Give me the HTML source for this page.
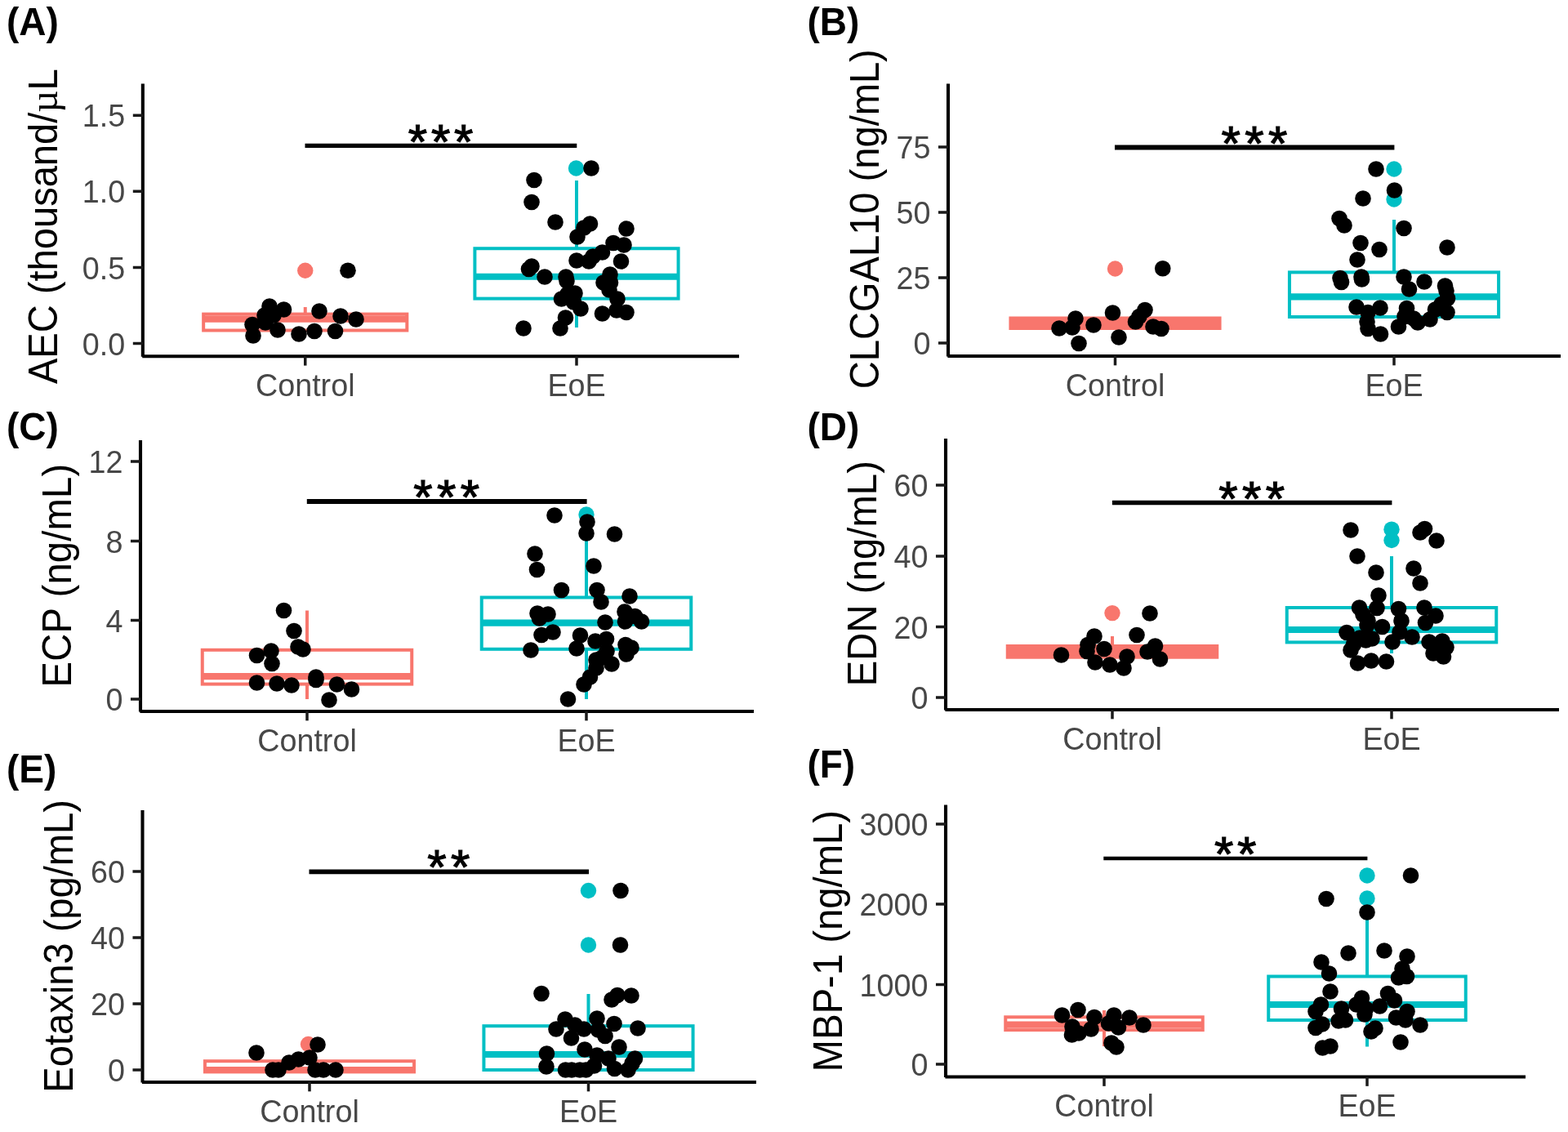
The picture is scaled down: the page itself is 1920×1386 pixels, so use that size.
<!DOCTYPE html>
<html lang="en">
<head>
<meta charset="utf-8">
<title>Figure</title>
<style>
html,body{margin:0;padding:0;background:#fff;}
body{width:1920px;height:1386px;overflow:hidden;}
svg{display:block;}
text{font-family:"Liberation Sans",Arial,Helvetica,sans-serif;}
.tl{font-size:37.7px;fill:#474747;}
.yt{font-size:47.1px;fill:#000;}
.mu{font-family:"Liberation Serif","DejaVu Serif",serif;}
.pl{font-size:46px;font-weight:bold;fill:#000;}
.st{font-size:60px;fill:#000;stroke:#000;stroke-width:1.2px;stroke-linejoin:miter;}
.ax{stroke:#000;stroke-width:4.1;fill:none;stroke-linecap:butt;}
.tk{stroke:#1a1a1a;stroke-width:3.5;fill:none;}
.sg{stroke:#000;fill:none;}
.p{fill:#000;}
</style>
</head>
<body>
<svg width="1920" height="1386" viewBox="0 0 1920 1386">
<rect x="0" y="0" width="1920" height="1386" fill="#ffffff"/>

<g id="panel-A">
<g stroke="#F8766D" fill="none" stroke-width="4"><line x1="373.75" y1="384.6" x2="373.75" y2="376"/><rect x="249.16" y="384.6" width="249.18" height="19.9" fill="#fff" stroke-linejoin="miter"/><line x1="249.16" y1="390.6" x2="498.34" y2="390.6" stroke-width="8.2"/></g>
<g stroke="#00BFC4" fill="none" stroke-width="4"><line x1="706" y1="304.25" x2="706" y2="221"/><line x1="706" y1="365.6" x2="706" y2="401"/><rect x="581.41" y="304.25" width="249.18" height="61.35" fill="#fff" stroke-linejoin="miter"/><line x1="581.41" y1="338.75" x2="830.59" y2="338.75" stroke-width="8.2"/></g>
<circle cx="373.75" cy="331.25" r="9.7" fill="#F8766D"/>
<circle cx="705.5" cy="206" r="9.7" fill="#00BFC4"/>
<g class="p"><circle cx="426" cy="331.25" r="9.8"/><circle cx="330" cy="375" r="9.8"/><circle cx="347.5" cy="379" r="9.8"/><circle cx="391" cy="381" r="9.8"/><circle cx="324" cy="386" r="9.8"/><circle cx="335" cy="386" r="9.8"/><circle cx="417" cy="387" r="9.8"/><circle cx="436" cy="391" r="9.8"/><circle cx="309" cy="397.5" r="9.8"/><circle cx="325" cy="395" r="9.8"/><circle cx="340" cy="404" r="9.8"/><circle cx="310" cy="411" r="9.8"/><circle cx="366" cy="409" r="9.8"/><circle cx="385" cy="405.5" r="9.8"/><circle cx="410.5" cy="405.5" r="9.8"/><circle cx="724" cy="206" r="9.8"/><circle cx="654" cy="220.5" r="9.8"/><circle cx="651" cy="247.5" r="9.8"/><circle cx="680" cy="272" r="9.8"/><circle cx="722.5" cy="274" r="9.8"/><circle cx="715" cy="279" r="9.8"/><circle cx="767" cy="280" r="9.8"/><circle cx="707" cy="290" r="9.8"/><circle cx="751" cy="297.5" r="9.8"/><circle cx="764" cy="300" r="9.8"/><circle cx="737.5" cy="309" r="9.8"/><circle cx="726" cy="314" r="9.8"/><circle cx="721" cy="320" r="9.8"/><circle cx="706" cy="319" r="9.8"/><circle cx="760.5" cy="320" r="9.8"/><circle cx="651" cy="326" r="9.8"/><circle cx="647.5" cy="329.5" r="9.8"/><circle cx="667" cy="339" r="9.8"/><circle cx="693" cy="339" r="9.8"/><circle cx="747" cy="336" r="9.8"/><circle cx="694" cy="344" r="9.8"/><circle cx="739" cy="346" r="9.8"/><circle cx="747.5" cy="346" r="9.8"/><circle cx="746" cy="355" r="9.8"/><circle cx="704" cy="359" r="9.8"/><circle cx="695" cy="360" r="9.8"/><circle cx="687.5" cy="366" r="9.8"/><circle cx="756" cy="366" r="9.8"/><circle cx="702.5" cy="370" r="9.8"/><circle cx="711" cy="378" r="9.8"/><circle cx="755" cy="380" r="9.8"/><circle cx="737.5" cy="384" r="9.8"/><circle cx="767" cy="382.5" r="9.8"/><circle cx="692.5" cy="389" r="9.8"/><circle cx="641" cy="402" r="9.8"/><circle cx="686" cy="402" r="9.8"/></g>
<line class="sg" stroke-width="5.2" x1="373.5" y1="178.4" x2="706.3" y2="178.4"/>
<text class="st" text-anchor="middle" letter-spacing="4.76" x="541.98" y="194.4">***</text>
<line class="ax" x1="174.85" y1="102.5" x2="174.85" y2="436.85"/><line class="ax" x1="174.25" y1="436.25" x2="905" y2="436.25"/>
<line class="tk" x1="162.8" y1="141.25" x2="174.85" y2="141.25"/>
<text class="tl" text-anchor="end" transform="translate(153.25 155.45) scale(1 1.045)">1.5</text>
<line class="tk" x1="162.8" y1="234.25" x2="174.85" y2="234.25"/>
<text class="tl" text-anchor="end" transform="translate(153.25 248.45) scale(1 1.045)">1.0</text>
<line class="tk" x1="162.8" y1="327.5" x2="174.85" y2="327.5"/>
<text class="tl" text-anchor="end" transform="translate(153.25 341.7) scale(1 1.045)">0.5</text>
<line class="tk" x1="162.8" y1="420.5" x2="174.85" y2="420.5"/>
<text class="tl" text-anchor="end" transform="translate(153.25 434.7) scale(1 1.045)">0.0</text>
<line class="tk" x1="373.75" y1="436.25" x2="373.75" y2="447.6"/>
<text class="tl" text-anchor="middle" transform="translate(373.75 484.75) scale(1 1.045)">Control</text>
<line class="tk" x1="706" y1="436.25" x2="706" y2="447.6"/>
<text class="tl" text-anchor="middle" transform="translate(706 484.75) scale(1 1.045)">EoE</text>
<text class="yt" transform="translate(69.8 470) rotate(-90) scale(1 1.045)" x="-0.09">AEC (thousand/<tspan class="mu">µ</tspan>L</text>
<text class="pl" transform="translate(7.9 43.4) scale(1 1.045)">(A)</text>
</g>
<g id="panel-B">
<g stroke="#F8766D" fill="none" stroke-width="4"><rect x="1237.44" y="389.5" width="256.12" height="12.5" fill="#F8766D" stroke-linejoin="miter"/><line x1="1237.44" y1="395" x2="1493.56" y2="395" stroke-width="8.2"/></g>
<g stroke="#00BFC4" fill="none" stroke-width="4"><line x1="1707" y1="333.4" x2="1707" y2="269"/><rect x="1578.94" y="333.4" width="256.12" height="54.6" fill="#fff" stroke-linejoin="miter"/><line x1="1578.94" y1="363.3" x2="1835.06" y2="363.3" stroke-width="8.2"/></g>
<circle cx="1365.5" cy="329" r="9.7" fill="#F8766D"/>
<circle cx="1707" cy="207" r="9.7" fill="#00BFC4"/>
<circle cx="1707" cy="244" r="9.7" fill="#00BFC4"/>
<g class="p"><circle cx="1423.75" cy="328.75" r="9.8"/><circle cx="1362.5" cy="383" r="9.8"/><circle cx="1402" cy="379.5" r="9.8"/><circle cx="1317" cy="390" r="9.8"/><circle cx="1395" cy="387.5" r="9.8"/><circle cx="1390.5" cy="394" r="9.8"/><circle cx="1339" cy="398" r="9.8"/><circle cx="1297" cy="402" r="9.8"/><circle cx="1313" cy="401" r="9.8"/><circle cx="1412" cy="400" r="9.8"/><circle cx="1422" cy="402.5" r="9.8"/><circle cx="1370" cy="413" r="9.8"/><circle cx="1321" cy="420.5" r="9.8"/><circle cx="1685" cy="207" r="9.8"/><circle cx="1707.5" cy="233" r="9.8"/><circle cx="1669" cy="243" r="9.8"/><circle cx="1640" cy="267.5" r="9.8"/><circle cx="1646" cy="276" r="9.8"/><circle cx="1719" cy="279.5" r="9.8"/><circle cx="1666" cy="297.5" r="9.8"/><circle cx="1689" cy="305.5" r="9.8"/><circle cx="1772" cy="303" r="9.8"/><circle cx="1662" cy="318" r="9.8"/><circle cx="1641" cy="340.5" r="9.8"/><circle cx="1642.5" cy="345.5" r="9.8"/><circle cx="1667" cy="339" r="9.8"/><circle cx="1667.5" cy="342" r="9.8"/><circle cx="1719" cy="339" r="9.8"/><circle cx="1744" cy="345" r="9.8"/><circle cx="1725.5" cy="354" r="9.8"/><circle cx="1769.5" cy="350" r="9.8"/><circle cx="1771" cy="356" r="9.8"/><circle cx="1772.5" cy="365.5" r="9.8"/><circle cx="1765" cy="372.5" r="9.8"/><circle cx="1757.5" cy="379" r="9.8"/><circle cx="1772" cy="382.5" r="9.8"/><circle cx="1661" cy="376" r="9.8"/><circle cx="1690" cy="377" r="9.8"/><circle cx="1675" cy="382.5" r="9.8"/><circle cx="1722.5" cy="377.5" r="9.8"/><circle cx="1720" cy="387.5" r="9.8"/><circle cx="1731" cy="390" r="9.8"/><circle cx="1751" cy="391" r="9.8"/><circle cx="1736" cy="395" r="9.8"/><circle cx="1674" cy="394" r="9.8"/><circle cx="1712.5" cy="400" r="9.8"/><circle cx="1675" cy="402.5" r="9.8"/><circle cx="1690.5" cy="409" r="9.8"/></g>
<line class="sg" stroke-width="6" x1="1365" y1="180.5" x2="1707.4" y2="180.5"/>
<text class="st" text-anchor="middle" letter-spacing="5.4" x="1538.7" y="195.5">***</text>
<line class="ax" x1="1161" y1="102.5" x2="1161" y2="436.6"/><line class="ax" x1="1160.4" y1="436" x2="1911" y2="436"/>
<line class="tk" x1="1148.95" y1="180" x2="1161" y2="180"/>
<text class="tl" text-anchor="end" transform="translate(1139.4 194.2) scale(1 1.045)">75</text>
<line class="tk" x1="1148.95" y1="260" x2="1161" y2="260"/>
<text class="tl" text-anchor="end" transform="translate(1139.4 274.2) scale(1 1.045)">50</text>
<line class="tk" x1="1148.95" y1="340" x2="1161" y2="340"/>
<text class="tl" text-anchor="end" transform="translate(1139.4 354.2) scale(1 1.045)">25</text>
<line class="tk" x1="1148.95" y1="420" x2="1161" y2="420"/>
<text class="tl" text-anchor="end" transform="translate(1139.4 434.2) scale(1 1.045)">0</text>
<line class="tk" x1="1365.5" y1="436" x2="1365.5" y2="447.35"/>
<text class="tl" text-anchor="middle" transform="translate(1365.5 484.5) scale(1 1.045)">Control</text>
<line class="tk" x1="1707" y1="436" x2="1707" y2="447.35"/>
<text class="tl" text-anchor="middle" transform="translate(1707 484.5) scale(1 1.045)">EoE</text>
<text class="yt" transform="translate(1076 473.9) rotate(-90) scale(1 1.045)" x="-2.39">CLCGAL10 (ng/mL)</text>
<text class="pl" transform="translate(988.4 43.4) scale(1 1.045)">(B)</text>
</g>
<g id="panel-C">
<g stroke="#F8766D" fill="none" stroke-width="4"><line x1="376" y1="795.8" x2="376" y2="747.5"/><line x1="376" y1="837.6" x2="376" y2="856"/><rect x="247.75" y="795.8" width="256.5" height="41.8" fill="#fff" stroke-linejoin="miter"/><line x1="247.75" y1="828.2" x2="504.25" y2="828.2" stroke-width="8.2"/></g>
<g stroke="#00BFC4" fill="none" stroke-width="4"><line x1="718" y1="731.5" x2="718" y2="630"/><line x1="718" y1="794.8" x2="718" y2="856"/><rect x="589.75" y="731.5" width="256.5" height="63.3" fill="#fff" stroke-linejoin="miter"/><line x1="589.75" y1="762.6" x2="846.25" y2="762.6" stroke-width="8.2"/></g>
<circle cx="718" cy="630" r="9.7" fill="#00BFC4"/>
<g class="p"><circle cx="347.5" cy="747.5" r="9.8"/><circle cx="360" cy="772.5" r="9.8"/><circle cx="365" cy="792" r="9.8"/><circle cx="371" cy="795" r="9.8"/><circle cx="332" cy="797" r="9.8"/><circle cx="314.5" cy="802.5" r="9.8"/><circle cx="333" cy="812.5" r="9.8"/><circle cx="387" cy="829" r="9.8"/><circle cx="387" cy="832.5" r="9.8"/><circle cx="314.5" cy="836" r="9.8"/><circle cx="339" cy="837" r="9.8"/><circle cx="357" cy="839" r="9.8"/><circle cx="412.5" cy="838" r="9.8"/><circle cx="430.5" cy="844" r="9.8"/><circle cx="403" cy="857" r="9.8"/><circle cx="679" cy="631" r="9.8"/><circle cx="719" cy="639" r="9.8"/><circle cx="718" cy="653" r="9.8"/><circle cx="752.5" cy="654" r="9.8"/><circle cx="655" cy="678" r="9.8"/><circle cx="657.5" cy="697.5" r="9.8"/><circle cx="727" cy="693" r="9.8"/><circle cx="687.5" cy="722.5" r="9.8"/><circle cx="731" cy="722.5" r="9.8"/><circle cx="771" cy="730" r="9.8"/><circle cx="736" cy="737" r="9.8"/><circle cx="658" cy="751" r="9.8"/><circle cx="671" cy="752" r="9.8"/><circle cx="660.5" cy="757" r="9.8"/><circle cx="765" cy="749" r="9.8"/><circle cx="777.5" cy="754.5" r="9.8"/><circle cx="785.5" cy="761" r="9.8"/><circle cx="765.5" cy="761" r="9.8"/><circle cx="741" cy="762" r="9.8"/><circle cx="677" cy="774" r="9.8"/><circle cx="663" cy="777.5" r="9.8"/><circle cx="710.5" cy="778" r="9.8"/><circle cx="742.5" cy="782.5" r="9.8"/><circle cx="729" cy="785" r="9.8"/><circle cx="766" cy="789.5" r="9.8"/><circle cx="773" cy="793" r="9.8"/><circle cx="706" cy="794" r="9.8"/><circle cx="650" cy="796" r="9.8"/><circle cx="743" cy="797.5" r="9.8"/><circle cx="767" cy="801" r="9.8"/><circle cx="737.5" cy="805" r="9.8"/><circle cx="730" cy="808" r="9.8"/><circle cx="749" cy="813" r="9.8"/><circle cx="730" cy="818" r="9.8"/><circle cx="722.5" cy="829" r="9.8"/><circle cx="715" cy="838" r="9.8"/><circle cx="695.5" cy="856" r="9.8"/></g>
<line class="sg" stroke-width="6.2" x1="375.8" y1="614" x2="718.6" y2="614"/>
<text class="st" text-anchor="middle" letter-spacing="5.4" x="549.4" y="629.2">***</text>
<line class="ax" x1="172" y1="539" x2="172" y2="871.6"/><line class="ax" x1="171.4" y1="871" x2="923" y2="871"/>
<line class="tk" x1="159.95" y1="565" x2="172" y2="565"/>
<text class="tl" text-anchor="end" transform="translate(150.4 579.2) scale(1 1.045)">12</text>
<line class="tk" x1="159.95" y1="662.5" x2="172" y2="662.5"/>
<text class="tl" text-anchor="end" transform="translate(150.4 676.7) scale(1 1.045)">8</text>
<line class="tk" x1="159.95" y1="759.5" x2="172" y2="759.5"/>
<text class="tl" text-anchor="end" transform="translate(150.4 773.7) scale(1 1.045)">4</text>
<line class="tk" x1="159.95" y1="856" x2="172" y2="856"/>
<text class="tl" text-anchor="end" transform="translate(150.4 870.2) scale(1 1.045)">0</text>
<line class="tk" x1="376" y1="871" x2="376" y2="882.35"/>
<text class="tl" text-anchor="middle" transform="translate(376 919.5) scale(1 1.045)">Control</text>
<line class="tk" x1="718" y1="871" x2="718" y2="882.35"/>
<text class="tl" text-anchor="middle" transform="translate(718 919.5) scale(1 1.045)">EoE</text>
<text class="yt" letter-spacing="0.23" transform="translate(86.6 837.6) rotate(-90) scale(1 1.045)" x="-3.86">ECP (ng/mL)</text>
<text class="pl" transform="translate(7.9 539.1) scale(1 1.045)">(C)</text>
</g>
<g id="panel-D">
<g stroke="#F8766D" fill="none" stroke-width="4"><line x1="1362" y1="791" x2="1362" y2="779"/><rect x="1233.75" y="791" width="256.5" height="13.7" fill="#F8766D" stroke-linejoin="miter"/><line x1="1233.75" y1="798" x2="1490.25" y2="798" stroke-width="8.2"/></g>
<g stroke="#00BFC4" fill="none" stroke-width="4"><line x1="1704" y1="744" x2="1704" y2="681"/><line x1="1704" y1="786.4" x2="1704" y2="800"/><rect x="1575.75" y="744" width="256.5" height="42.4" fill="#fff" stroke-linejoin="miter"/><line x1="1575.75" y1="771" x2="1832.25" y2="771" stroke-width="8.2"/></g>
<circle cx="1362" cy="750.6" r="9.7" fill="#F8766D"/>
<circle cx="1704" cy="648.2" r="9.7" fill="#00BFC4"/>
<circle cx="1704" cy="661.5" r="9.7" fill="#00BFC4"/>
<g class="p"><circle cx="1408" cy="751" r="9.8"/><circle cx="1340" cy="779" r="9.8"/><circle cx="1392" cy="777.5" r="9.8"/><circle cx="1332" cy="789.5" r="9.8"/><circle cx="1414.5" cy="791" r="9.8"/><circle cx="1352" cy="794.5" r="9.8"/><circle cx="1331" cy="797.5" r="9.8"/><circle cx="1405" cy="798" r="9.8"/><circle cx="1299.5" cy="802" r="9.8"/><circle cx="1380" cy="804" r="9.8"/><circle cx="1420.5" cy="807" r="9.8"/><circle cx="1341" cy="811" r="9.8"/><circle cx="1359" cy="814" r="9.8"/><circle cx="1376" cy="818" r="9.8"/><circle cx="1654" cy="649" r="9.8"/><circle cx="1744.5" cy="647.5" r="9.8"/><circle cx="1739" cy="652" r="9.8"/><circle cx="1759" cy="662" r="9.8"/><circle cx="1662" cy="681" r="9.8"/><circle cx="1731" cy="696" r="9.8"/><circle cx="1685" cy="701" r="9.8"/><circle cx="1739" cy="714" r="9.8"/><circle cx="1688" cy="729" r="9.8"/><circle cx="1664.5" cy="744" r="9.8"/><circle cx="1686" cy="744.5" r="9.8"/><circle cx="1712.5" cy="745.5" r="9.8"/><circle cx="1744" cy="744" r="9.8"/><circle cx="1669" cy="752.5" r="9.8"/><circle cx="1758" cy="754" r="9.8"/><circle cx="1675" cy="760" r="9.8"/><circle cx="1716" cy="760" r="9.8"/><circle cx="1745.5" cy="762.5" r="9.8"/><circle cx="1692.5" cy="767.5" r="9.8"/><circle cx="1674" cy="765.5" r="9.8"/><circle cx="1649" cy="774.5" r="9.8"/><circle cx="1714" cy="774" r="9.8"/><circle cx="1729" cy="780" r="9.8"/><circle cx="1665" cy="781" r="9.8"/><circle cx="1680" cy="782" r="9.8"/><circle cx="1672.5" cy="784" r="9.8"/><circle cx="1705" cy="786" r="9.8"/><circle cx="1750" cy="786" r="9.8"/><circle cx="1766" cy="785" r="9.8"/><circle cx="1657.5" cy="789" r="9.8"/><circle cx="1771" cy="792.5" r="9.8"/><circle cx="1762.5" cy="794" r="9.8"/><circle cx="1654" cy="796" r="9.8"/><circle cx="1755" cy="800" r="9.8"/><circle cx="1767.5" cy="804" r="9.8"/><circle cx="1679" cy="809" r="9.8"/><circle cx="1697.5" cy="810" r="9.8"/><circle cx="1662.5" cy="812" r="9.8"/></g>
<line class="sg" stroke-width="5.6" x1="1361.9" y1="615.5" x2="1704.4" y2="615.5"/>
<text class="st" text-anchor="middle" letter-spacing="5.4" x="1535.4" y="630.7">***</text>
<line class="ax" x1="1158" y1="537" x2="1158" y2="869.6"/><line class="ax" x1="1157.4" y1="869" x2="1909" y2="869"/>
<line class="tk" x1="1145.95" y1="594" x2="1158" y2="594"/>
<text class="tl" text-anchor="end" transform="translate(1136.4 608.2) scale(1 1.045)">60</text>
<line class="tk" x1="1145.95" y1="681" x2="1158" y2="681"/>
<text class="tl" text-anchor="end" transform="translate(1136.4 695.2) scale(1 1.045)">40</text>
<line class="tk" x1="1145.95" y1="767.5" x2="1158" y2="767.5"/>
<text class="tl" text-anchor="end" transform="translate(1136.4 781.7) scale(1 1.045)">20</text>
<line class="tk" x1="1145.95" y1="854" x2="1158" y2="854"/>
<text class="tl" text-anchor="end" transform="translate(1136.4 868.2) scale(1 1.045)">0</text>
<line class="tk" x1="1362" y1="869" x2="1362" y2="880.35"/>
<text class="tl" text-anchor="middle" transform="translate(1362 917.5) scale(1 1.045)">Control</text>
<line class="tk" x1="1704" y1="869" x2="1704" y2="880.35"/>
<text class="tl" text-anchor="middle" transform="translate(1704 917.5) scale(1 1.045)">EoE</text>
<text class="yt" letter-spacing="0.14" transform="translate(1072.7 836.4) rotate(-90) scale(1 1.045)" x="-3.86">EDN (ng/mL)</text>
<text class="pl" transform="translate(988.4 539.1) scale(1 1.045)">(D)</text>
</g>
<g id="panel-E">
<g stroke="#F8766D" fill="none" stroke-width="4"><rect x="250.94" y="1299.2" width="256.12" height="13.2" fill="#fff" stroke-linejoin="miter"/><line x1="250.94" y1="1310" x2="507.06" y2="1310" stroke-width="8.2"/></g>
<g stroke="#00BFC4" fill="none" stroke-width="4"><line x1="720.5" y1="1256.2" x2="720.5" y2="1217"/><rect x="592.44" y="1256.2" width="256.12" height="53.8" fill="#fff" stroke-linejoin="miter"/><line x1="592.44" y1="1291" x2="848.56" y2="1291" stroke-width="8.2"/></g>
<circle cx="377.5" cy="1278.5" r="9.7" fill="#F8766D"/>
<circle cx="720.5" cy="1090.5" r="9.7" fill="#00BFC4"/>
<circle cx="720.5" cy="1157" r="9.7" fill="#00BFC4"/>
<g class="p"><circle cx="389" cy="1279" r="9.8"/><circle cx="314" cy="1289" r="9.8"/><circle cx="379" cy="1295" r="9.8"/><circle cx="365.5" cy="1297" r="9.8"/><circle cx="354" cy="1301" r="9.8"/><circle cx="334" cy="1310" r="9.8"/><circle cx="341" cy="1310" r="9.8"/><circle cx="386" cy="1310" r="9.8"/><circle cx="396" cy="1310" r="9.8"/><circle cx="411" cy="1310" r="9.8"/><circle cx="760" cy="1090.5" r="9.8"/><circle cx="759.5" cy="1157" r="9.8"/><circle cx="663" cy="1216.5" r="9.8"/><circle cx="756" cy="1218.5" r="9.8"/><circle cx="773" cy="1219" r="9.8"/><circle cx="749" cy="1224" r="9.8"/><circle cx="692" cy="1248" r="9.8"/><circle cx="731" cy="1247" r="9.8"/><circle cx="752" cy="1253.5" r="9.8"/><circle cx="704" cy="1255" r="9.8"/><circle cx="681" cy="1260" r="9.8"/><circle cx="715" cy="1260" r="9.8"/><circle cx="781" cy="1259" r="9.8"/><circle cx="732.5" cy="1261" r="9.8"/><circle cx="741" cy="1268.5" r="9.8"/><circle cx="699.5" cy="1271" r="9.8"/><circle cx="758" cy="1282" r="9.8"/><circle cx="716" cy="1285" r="9.8"/><circle cx="669.5" cy="1290" r="9.8"/><circle cx="731" cy="1292" r="9.8"/><circle cx="745" cy="1296" r="9.8"/><circle cx="777.5" cy="1296" r="9.8"/><circle cx="774" cy="1302" r="9.8"/><circle cx="669" cy="1306" r="9.8"/><circle cx="727.5" cy="1305" r="9.8"/><circle cx="752.5" cy="1308.5" r="9.8"/><circle cx="769" cy="1310" r="9.8"/><circle cx="692.5" cy="1310" r="9.8"/><circle cx="700" cy="1310" r="9.8"/><circle cx="710" cy="1310" r="9.8"/><circle cx="717.5" cy="1310" r="9.8"/></g>
<line class="sg" stroke-width="5.8" x1="378.5" y1="1067.3" x2="721" y2="1067.3"/>
<text class="st" text-anchor="middle" letter-spacing="5.4" x="551.95" y="1082.1">**</text>
<line class="ax" x1="174.5" y1="992" x2="174.5" y2="1325.6"/><line class="ax" x1="173.9" y1="1325" x2="926" y2="1325"/>
<line class="tk" x1="162.45" y1="1067" x2="174.5" y2="1067"/>
<text class="tl" text-anchor="end" transform="translate(152.9 1081.2) scale(1 1.045)">60</text>
<line class="tk" x1="162.45" y1="1148" x2="174.5" y2="1148"/>
<text class="tl" text-anchor="end" transform="translate(152.9 1162.2) scale(1 1.045)">40</text>
<line class="tk" x1="162.45" y1="1229" x2="174.5" y2="1229"/>
<text class="tl" text-anchor="end" transform="translate(152.9 1243.2) scale(1 1.045)">20</text>
<line class="tk" x1="162.45" y1="1310" x2="174.5" y2="1310"/>
<text class="tl" text-anchor="end" transform="translate(152.9 1324.2) scale(1 1.045)">0</text>
<line class="tk" x1="379" y1="1325" x2="379" y2="1336.35"/>
<text class="tl" text-anchor="middle" transform="translate(379 1373.5) scale(1 1.045)">Control</text>
<line class="tk" x1="720.5" y1="1325" x2="720.5" y2="1336.35"/>
<text class="tl" text-anchor="middle" transform="translate(720.5 1373.5) scale(1 1.045)">EoE</text>
<text class="yt" transform="translate(89.4 1333.8) rotate(-90) scale(1 1.045)" x="-3.86">Eotaxin3 (pg/mL)</text>
<text class="pl" transform="translate(7.9 957.6) scale(1 1.045)">(E)</text>
</g>
<g id="panel-F">
<g stroke="#F8766D" fill="none" stroke-width="4"><line x1="1352" y1="1245.3" x2="1352" y2="1237"/><line x1="1352" y1="1261.1" x2="1352" y2="1281"/><rect x="1231.25" y="1245.3" width="241.5" height="15.8" fill="#fff" stroke-linejoin="miter"/><line x1="1231.25" y1="1254.7" x2="1472.75" y2="1254.7" stroke-width="8.2"/></g>
<g stroke="#00BFC4" fill="none" stroke-width="4"><line x1="1674" y1="1195.5" x2="1674" y2="1117.5"/><line x1="1674" y1="1249" x2="1674" y2="1281.5"/><rect x="1553.25" y="1195.5" width="241.5" height="53.5" fill="#fff" stroke-linejoin="miter"/><line x1="1553.25" y1="1230" x2="1794.75" y2="1230" stroke-width="8.2"/></g>
<circle cx="1674" cy="1072" r="9.7" fill="#00BFC4"/>
<circle cx="1674" cy="1100" r="9.7" fill="#00BFC4"/>
<g class="p"><circle cx="1320" cy="1236.5" r="9.8"/><circle cx="1300.5" cy="1243" r="9.8"/><circle cx="1340" cy="1245.5" r="9.8"/><circle cx="1364" cy="1243" r="9.8"/><circle cx="1383" cy="1246" r="9.8"/><circle cx="1357.5" cy="1253" r="9.8"/><circle cx="1400" cy="1255" r="9.8"/><circle cx="1313" cy="1257" r="9.8"/><circle cx="1369.5" cy="1258" r="9.8"/><circle cx="1336" cy="1260" r="9.8"/><circle cx="1321" cy="1265" r="9.8"/><circle cx="1312.5" cy="1267" r="9.8"/><circle cx="1361" cy="1277" r="9.8"/><circle cx="1367" cy="1282" r="9.8"/><circle cx="1727.5" cy="1072" r="9.8"/><circle cx="1624" cy="1100.5" r="9.8"/><circle cx="1674" cy="1117" r="9.8"/><circle cx="1651" cy="1167" r="9.8"/><circle cx="1695" cy="1164" r="9.8"/><circle cx="1723" cy="1171" r="9.8"/><circle cx="1618" cy="1178" r="9.8"/><circle cx="1717" cy="1186" r="9.8"/><circle cx="1627.5" cy="1192" r="9.8"/><circle cx="1722.5" cy="1195.5" r="9.8"/><circle cx="1712.5" cy="1197" r="9.8"/><circle cx="1629" cy="1214" r="9.8"/><circle cx="1699.5" cy="1216.5" r="9.8"/><circle cx="1667.5" cy="1222" r="9.8"/><circle cx="1707.5" cy="1225" r="9.8"/><circle cx="1617.5" cy="1230" r="9.8"/><circle cx="1661" cy="1230" r="9.8"/><circle cx="1689.5" cy="1232" r="9.8"/><circle cx="1642.5" cy="1235" r="9.8"/><circle cx="1672.5" cy="1235" r="9.8"/><circle cx="1611" cy="1238.5" r="9.8"/><circle cx="1723" cy="1238.5" r="9.8"/><circle cx="1671" cy="1242" r="9.8"/><circle cx="1709.5" cy="1246" r="9.8"/><circle cx="1639" cy="1250" r="9.8"/><circle cx="1647.5" cy="1249" r="9.8"/><circle cx="1721" cy="1249" r="9.8"/><circle cx="1619" cy="1254" r="9.8"/><circle cx="1739" cy="1255" r="9.8"/><circle cx="1611" cy="1258.5" r="9.8"/><circle cx="1684" cy="1259" r="9.8"/><circle cx="1679" cy="1263" r="9.8"/><circle cx="1715" cy="1276" r="9.8"/><circle cx="1629" cy="1281" r="9.8"/><circle cx="1619.5" cy="1283" r="9.8"/></g>
<line class="sg" stroke-width="4.6" x1="1351.3" y1="1051" x2="1674.4" y2="1051"/>
<text class="st" text-anchor="middle" letter-spacing="4.5" x="1514.9" y="1065.9">**</text>
<line class="ax" x1="1158" y1="985.5" x2="1158" y2="1319.1"/><line class="ax" x1="1157.4" y1="1318.5" x2="1868" y2="1318.5"/>
<line class="tk" x1="1145.95" y1="1009" x2="1158" y2="1009"/>
<text class="tl" text-anchor="end" transform="translate(1136.4 1023.2) scale(1 1.045)">3000</text>
<line class="tk" x1="1145.95" y1="1107" x2="1158" y2="1107"/>
<text class="tl" text-anchor="end" transform="translate(1136.4 1121.2) scale(1 1.045)">2000</text>
<line class="tk" x1="1145.95" y1="1205.5" x2="1158" y2="1205.5"/>
<text class="tl" text-anchor="end" transform="translate(1136.4 1219.7) scale(1 1.045)">1000</text>
<line class="tk" x1="1145.95" y1="1303" x2="1158" y2="1303"/>
<text class="tl" text-anchor="end" transform="translate(1136.4 1317.2) scale(1 1.045)">0</text>
<line class="tk" x1="1352" y1="1318.5" x2="1352" y2="1329.85"/>
<text class="tl" text-anchor="middle" transform="translate(1352 1367) scale(1 1.045)">Control</text>
<line class="tk" x1="1674" y1="1318.5" x2="1674" y2="1329.85"/>
<text class="tl" text-anchor="middle" transform="translate(1674 1367) scale(1 1.045)">EoE</text>
<text class="yt" letter-spacing="0.08" transform="translate(1031.3 1308.3) rotate(-90) scale(1 1.045)" x="-3.86">MBP-1 (ng/mL)</text>
<text class="pl" transform="translate(988.4 952.1) scale(1 1.045)">(F)</text>
</g>
</svg>
</body>
</html>
